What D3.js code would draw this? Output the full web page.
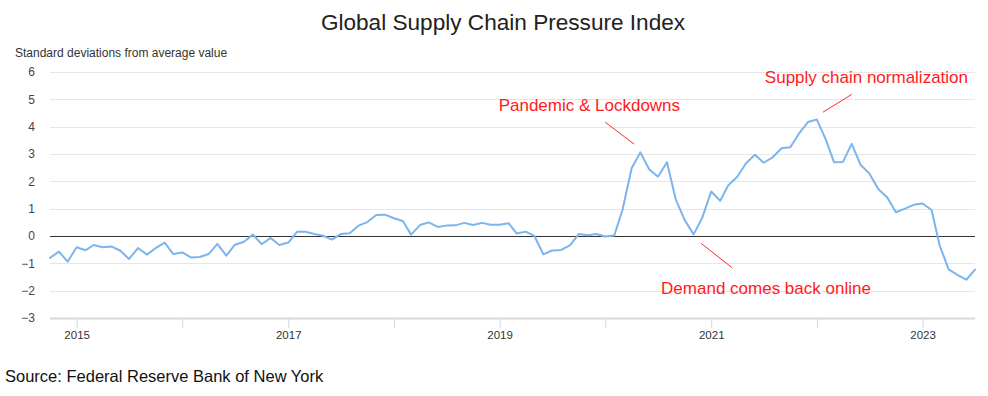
<!DOCTYPE html>
<html>
<head>
<meta charset="utf-8">
<script src="https://cdn.jsdelivr.net/npm/d3@7"></script>
<style>
  html, body { margin: 0; padding: 0; background: #fff; }
  svg { display: block; font-family: "Liberation Sans", Arial, Helvetica, sans-serif; }
</style>
</head>
<body>
<svg id="chart" width="988" height="396"></svg>
<script>
// ---------------- data ----------------
const months = [
  "2014-10","2014-11","2014-12",
  "2015-01","2015-02","2015-03","2015-04","2015-05","2015-06","2015-07","2015-08","2015-09","2015-10","2015-11","2015-12",
  "2016-01","2016-02","2016-03","2016-04","2016-05","2016-06","2016-07","2016-08","2016-09","2016-10","2016-11","2016-12",
  "2017-01","2017-02","2017-03","2017-04","2017-05","2017-06","2017-07","2017-08","2017-09","2017-10","2017-11","2017-12",
  "2018-01","2018-02","2018-03","2018-04","2018-05","2018-06","2018-07","2018-08","2018-09","2018-10","2018-11","2018-12",
  "2019-01","2019-02","2019-03","2019-04","2019-05","2019-06","2019-07","2019-08","2019-09","2019-10","2019-11","2019-12",
  "2020-01","2020-02","2020-03","2020-04","2020-05","2020-06","2020-07","2020-08","2020-09","2020-10","2020-11","2020-12",
  "2021-01","2021-02","2021-03","2021-04","2021-05","2021-06","2021-07","2021-08","2021-09","2021-10","2021-11","2021-12",
  "2022-01","2022-02","2022-03","2022-04","2022-05","2022-06","2022-07","2022-08","2022-09","2022-10","2022-11","2022-12",
  "2023-01","2023-02","2023-03","2023-04","2023-05","2023-06","2023-07"
];
const gscpi = [
  -0.80,-0.57,-0.94,
  -0.41,-0.52,-0.33,-0.41,-0.38,-0.54,-0.84,-0.44,-0.68,-0.44,-0.24,-0.66,
  -0.60,-0.79,-0.77,-0.66,-0.29,-0.72,-0.32,-0.21,0.05,-0.30,-0.07,-0.33,
  -0.24,0.16,0.16,0.07,0.01,-0.13,0.07,0.10,0.38,0.51,0.77,0.78,
  0.65,0.55,0.05,0.40,0.50,0.33,0.38,0.39,0.48,0.40,0.48,0.41,
  0.41,0.47,0.09,0.16,0.00,-0.67,-0.53,-0.51,-0.34,0.07,0.03,0.07,
  -0.02,0.02,0.98,2.48,3.06,2.43,2.17,2.70,1.32,0.59,0.06,0.67,
  1.63,1.29,1.86,2.17,2.66,2.97,2.68,2.88,3.21,3.25,3.76,4.17,
  4.26,3.52,2.70,2.71,3.37,2.60,2.29,1.72,1.41,0.87,1.00,1.14,
  1.19,0.95,-0.35,-1.22,-1.42,-1.60,-1.23
];
const yTicks = [-3,-2,-1,0,1,2,3,4,5,6];
const xTickYears = ["2015","2016","2017","2018","2019","2020","2021","2022","2023"];
const xLabelYears = ["2015","2017","2019","2021","2023"];
const titleText = "Global Supply Chain Pressure Index";
const yAxisTitle = "Standard deviations from average value";
const sourceText = "Source: Federal Reserve Bank of New York";
// annotations: label anchor (date, value) and pointer line endpoints (date, value)
const annLabels = ["Pandemic & Lockdowns", "Demand comes back online", "Supply chain normalization"];
const annTextAt = [["2019-11-07", 4.57], ["2021-07-09", -2.12], ["2022-06-21", 5.60]];
const annLineFrom = [["2020-01-01", 4.16], ["2020-11-27", -0.27], ["2022-01-22", 4.53]];
const annLineTo = [["2020-04-10", 3.36], ["2021-03-14", -1.16], ["2022-05-01", 5.18]];

// ---------------- drawing ----------------
const parseM = d3.utcParse("%Y-%m");
const parseD = d3.utcParse("%Y-%m-%d");
const parseY = d3.utcParse("%Y");
const data = months.map((m, i) => ({ date: parseM(m), value: gscpi[i] }));

const W = 988, H = 396;
const plot = { left: 50, right: 975, top: 72, bottom: 318 };

const svg = d3.select("#chart");

const x = d3.scaleUtc()
  .domain([parseM("2014-10"), parseM("2023-07")])
  .range([plot.left, plot.right]);
const y = d3.scaleLinear()
  .domain([-3, 6])
  .range([plot.bottom, plot.top]);

// title
svg.append("text")
  .attr("x", 503).attr("y", 30)
  .attr("text-anchor", "middle")
  .attr("font-size", 22.6)
  .attr("fill", "#222")
  .text(titleText);

// y-axis title
svg.append("text")
  .attr("x", 15).attr("y", 57)
  .attr("font-size", 12)
  .attr("fill", "#333")
  .text(yAxisTitle);

// grid lines
svg.append("g")
  .selectAll("line")
  .data(yTicks)
  .join("line")
  .attr("x1", plot.left).attr("x2", plot.right)
  .attr("y1", d => Math.round(y(d)) + 0.5).attr("y2", d => Math.round(y(d)) + 0.5)
  .attr("stroke", "#e6e6e6").attr("stroke-width", 1);

// y axis labels via d3 axis
const yAxis = d3.axisLeft(y).tickValues(yTicks).tickSize(0).tickPadding(0).tickFormat(d3.format("d"));
const yg = svg.append("g").attr("transform", `translate(35,0)`).call(yAxis);
yg.select(".domain").remove();
yg.selectAll("text").attr("font-size", 12).attr("fill", "#444")
  .attr("font-family", "'Liberation Sans', Arial, sans-serif");

// bottom axis line
svg.append("line")
  .attr("x1", plot.left).attr("x2", plot.right)
  .attr("y1", plot.bottom + 0.5).attr("y2", plot.bottom + 0.5)
  .attr("stroke", "#d8d8d8").attr("stroke-width", 2);

// x axis (ticks every year, labels odd years)
const xAxis = d3.axisBottom(x)
  .tickValues(xTickYears.map(parseY))
  .tickSize(10).tickPadding(3)
  .tickFormat(d => {
    const s = d3.utcFormat("%Y")(d);
    return xLabelYears.includes(s) ? s : "";
  });
const xg = svg.append("g").attr("transform", `translate(0,${plot.bottom})`).call(xAxis);
xg.select(".domain").remove();
xg.selectAll(".tick line").attr("stroke", "#ccd6eb").attr("stroke-width", 1);
xg.selectAll("text").attr("font-size", 11.5).attr("fill", "#333")
  .attr("font-family", "'Liberation Sans', Arial, sans-serif");

// zero line
svg.append("line")
  .attr("x1", plot.left).attr("x2", plot.right)
  .attr("y1", Math.round(y(0)) + 0.5).attr("y2", Math.round(y(0)) + 0.5)
  .attr("stroke", "#333").attr("stroke-width", 1);

// series line
const line = d3.line().x(d => x(d.date)).y(d => y(d.value));
svg.append("path")
  .datum(data)
  .attr("d", line)
  .attr("fill", "none")
  .attr("stroke", "#7cb5ec")
  .attr("stroke-width", 2)
  .attr("stroke-linejoin", "round")
  .attr("stroke-linecap", "round");

// annotations
const ann = annLabels.map((t, i) => ({
  text: t,
  tx: x(parseD(annTextAt[i][0])), ty: y(annTextAt[i][1]),
  x1: x(parseD(annLineFrom[i][0])), y1: y(annLineFrom[i][1]),
  x2: x(parseD(annLineTo[i][0])), y2: y(annLineTo[i][1])
}));
const ag = svg.append("g");
ag.selectAll("line").data(ann).join("line")
  .attr("x1", d => d.x1).attr("y1", d => d.y1)
  .attr("x2", d => d.x2).attr("y2", d => d.y2)
  .attr("stroke", "#ff2a2a").attr("stroke-width", 1);
ag.selectAll("text").data(ann).join("text")
  .attr("x", d => d.tx).attr("y", d => d.ty)
  .attr("text-anchor", "middle")
  .attr("font-size", 17)
  .attr("fill", "#ff1a1a")
  .text(d => d.text);

// source
svg.append("text")
  .attr("x", 5).attr("y", 382)
  .attr("font-size", 16.5)
  .attr("fill", "#111")
  .text(sourceText);
</script>
</body>
</html>
